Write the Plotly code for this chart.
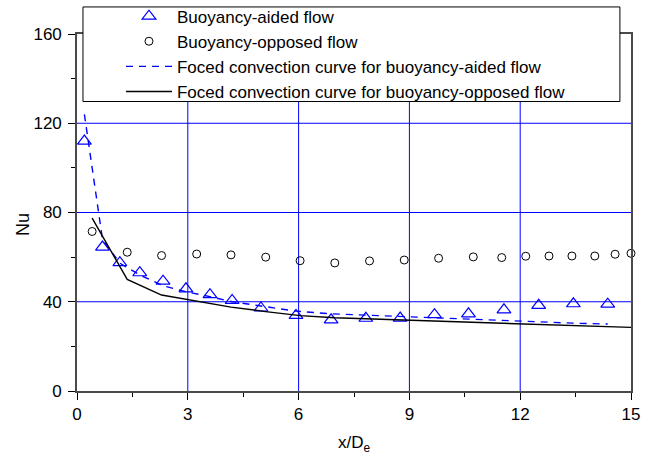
import plotly.graph_objects as go

# Buoyancy-aided flow measurements
aided_x = [0.20, 0.69, 1.16, 1.70, 2.33, 2.95, 3.60, 4.20, 4.98, 5.93,
           6.88, 7.82, 8.75, 9.68, 10.60, 11.56, 12.50, 13.44, 14.37]
aided_nu = [112.0, 64.5, 57.5, 53.0, 49.2, 45.8, 43.2, 40.6, 37.2, 33.9,
            31.9, 32.6, 32.7, 34.2, 34.6, 36.4, 38.4, 39.1, 38.9]

# Buoyancy-opposed flow measurements
opposed_x = [0.41, 1.36, 2.29, 3.24, 4.17, 5.11, 6.04, 6.98, 7.92, 8.86,
             9.79, 10.73, 11.50, 12.15, 12.78, 13.40, 14.02, 14.57, 15.00]
opposed_nu = [71.5, 62.2, 60.7, 61.4, 61.0, 60.0, 58.4, 57.4, 58.3, 58.7,
              59.5, 60.1, 59.8, 60.4, 60.5, 60.5, 60.5, 61.3, 61.7]

# Forced convection correlations evaluated at the measurement stations
forced_aided_nu = [124.0, 68.0, 57.3, 52.0, 47.2, 44.5, 42.3, 40.0, 38.1, 35.8,
                   34.6, 34.0, 33.2, 32.5, 32.0, 31.3, 30.8, 30.4, 30.0]
forced_opposed_nu = [77.5, 50.0, 43.0, 40.2, 37.6, 35.6, 33.8, 32.8, 32.3, 31.6,
                     31.0, 30.5, 30.1, 29.8, 29.5, 29.2, 29.0, 28.7, 28.5]

x_ticks = [0, 3, 6, 9, 12, 15]
y_ticks = [0, 40, 80, 120, 160]

FONT = "Arial, Liberation Sans, sans-serif"
BLUE = "#0000ff"
AXIS = "#4a4a4a"

fig = go.Figure()
fig.add_trace(go.Scatter(
    x=aided_x, y=aided_nu, mode="markers", name="Buoyancy-aided flow",
    marker=dict(symbol="triangle-up-open", size=12, color=BLUE, line=dict(width=1.2)),
    cliponaxis=False))
fig.add_trace(go.Scatter(
    x=opposed_x, y=opposed_nu, mode="markers", name="Buoyancy-opposed flow",
    marker=dict(symbol="circle-open", size=8, color="black", line=dict(width=1)),
    cliponaxis=False))
fig.add_trace(go.Scatter(
    x=aided_x, y=forced_aided_nu, mode="lines",
    name="Foced convection curve for buoyancy-aided flow",
    line=dict(color=BLUE, width=1.4, dash="7px,6px")))
fig.add_trace(go.Scatter(
    x=opposed_x, y=forced_opposed_nu, mode="lines",
    name="Foced convection curve for buoyancy-opposed flow",
    line=dict(color="black", width=1.4)))

axis_common = dict(
    showline=True, linecolor=AXIS, linewidth=1.6, mirror=True,
    showgrid=False, zeroline=False,
    ticks="outside", ticklen=7, tickwidth=1.2, tickcolor="black",
    tickfont=dict(family=FONT, size=17, color="black"),
    layer="above traces",
)

fig.update_xaxes(
    range=[x_ticks[0], x_ticks[-1]], tickmode="array", tickvals=x_ticks,
    minor=dict(tickmode="linear", tick0=0, dtick=1.5, ticks="outside", ticklen=4,
               tickcolor="black", showgrid=False),
    title=dict(text="x/D<sub>e</sub>", font=dict(family=FONT, size=17, color="black"),
               standoff=13),
    **axis_common)
fig.update_yaxes(
    range=[y_ticks[0], y_ticks[-1]], tickmode="array", tickvals=y_ticks,
    minor=dict(tickmode="linear", tick0=0, dtick=20, ticks="outside", ticklen=4,
               tickcolor="black", showgrid=False),
    ticklabelstandoff=3,
    **axis_common)

# y-axis title
fig.add_annotation(text="Nu", xref="paper", yref="paper", x=-0.0975, y=0.468,
                   textangle=-90, showarrow=False, xanchor="center", yanchor="middle",
                   font=dict(family=FONT, size=18, color="black"))

# Blue grid at the interior major ticks
for xv in x_ticks[1:-1]:
    fig.add_shape(type="line", xref="x", yref="paper", x0=xv, x1=xv, y0=0, y1=1,
                  line=dict(color=BLUE, width=1), layer="below")
for yv in y_ticks[1:-1]:
    fig.add_shape(type="line", xref="paper", yref="y", x0=0, x1=1, y0=yv, y1=yv,
                  line=dict(color=BLUE, width=1), layer="below")

# Legend frame
fig.add_shape(type="rect", xref="paper", yref="paper",
              x0=0.0108, x1=0.980, y0=0.8109, y1=1.0758,
              fillcolor="white", line=dict(color="black", width=1), layer="above")

fig.update_layout(
    width=657, height=457,
    margin=dict(l=77, r=26, t=34, b=66, autoexpand=False),
    plot_bgcolor="white", paper_bgcolor="white",
    font=dict(family=FONT, color="black"),
    legend=dict(
        x=0.0108, y=1.0992, xanchor="left", yanchor="top",
        bgcolor="rgba(0,0,0,0)", borderwidth=0,
        font=dict(family=FONT, size=17, color="black"),
        itemwidth=46, indentation=38, tracegroupgap=0,
    ),
    showlegend=True,
)

fig.write_html("out.html")
